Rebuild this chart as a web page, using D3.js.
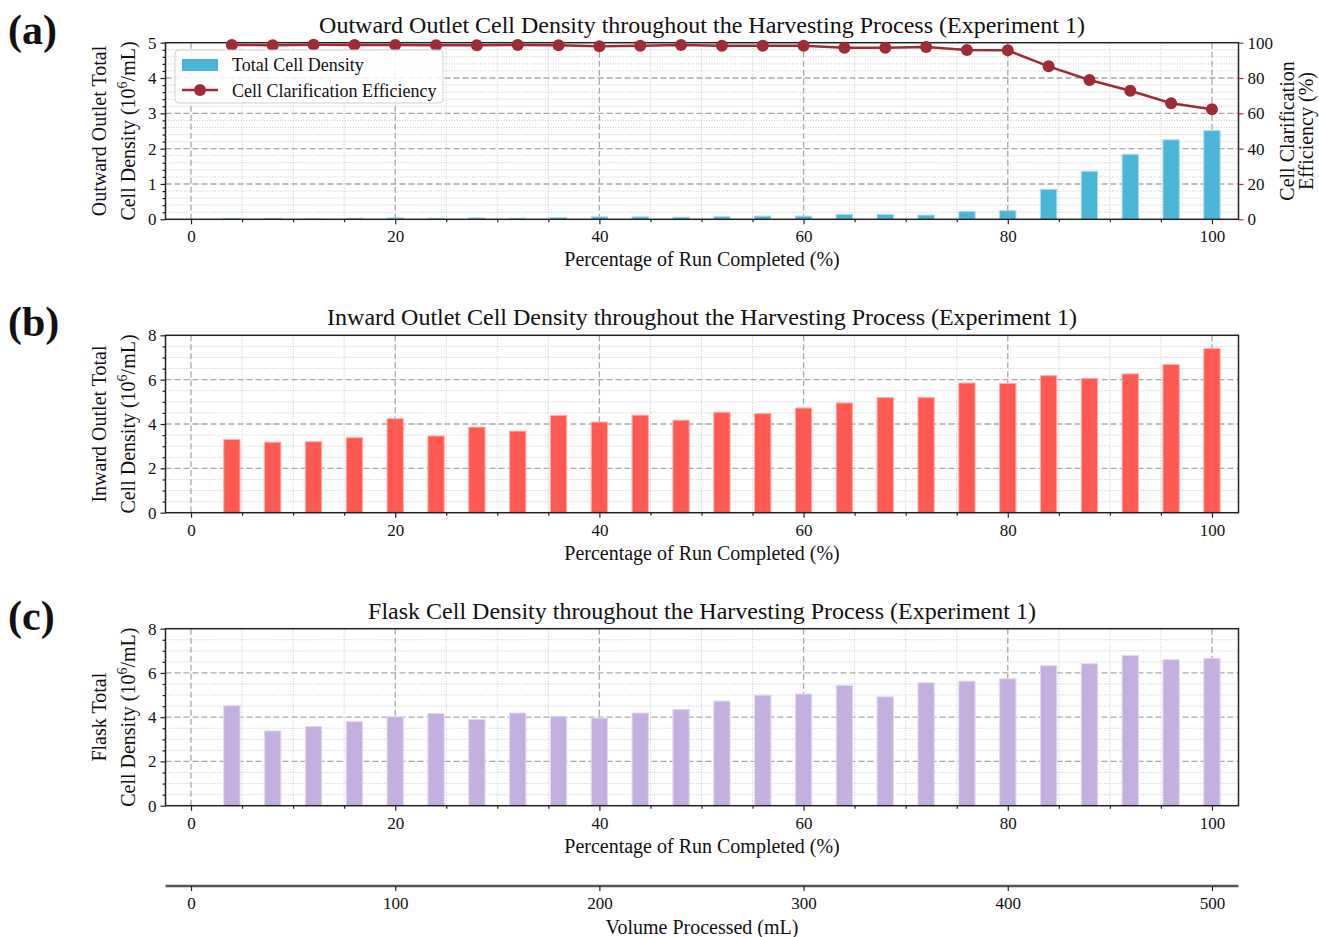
<!DOCTYPE html>
<html><head><meta charset="utf-8">
<script src="https://cdn.jsdelivr.net/npm/d3@7/dist/d3.min.js"></script>
<style>body{margin:0;background:#fff}svg{display:block}text{font-family:"Liberation Serif","Times New Roman",serif;fill:#111}</style>
</head><body><svg id="c" width="1319" height="937"></svg>
<script>
const pct = [4,8,12,16,20,24,28,32,36,40,44,48,52,56,60,64,68,72,76,80,84,88,92,96,100];
const outward = [0.03,0.03,0.01,0.03,0.04,0.03,0.04,0.03,0.05,0.07,0.07,0.06,0.075,0.09,0.09,0.14,0.14,0.12,0.22,0.245,0.85,1.36,1.84,2.25,2.51];
const efficiency = [98.7,98.6,98.8,98.7,98.7,98.6,98.5,98.7,98.5,98.0,98.3,98.7,98.3,98.3,98.3,97.2,97.2,97.5,95.8,95.7,86.6,78.9,72.8,65.7,62.3];
const inward = [3.3,3.18,3.2,3.38,4.24,3.46,3.86,3.68,4.39,4.09,4.4,4.17,4.53,4.47,4.72,4.95,5.19,5.19,5.85,5.83,6.18,6.06,6.26,6.68,7.40];
const flask = [4.52,3.38,3.58,3.8,4.02,4.17,3.9,4.19,4.04,3.96,4.19,4.35,4.73,5.0,5.05,5.44,4.92,5.56,5.63,5.74,6.33,6.42,6.79,6.6,6.66];
const xTicks = [0,20,40,60,80,100];
const volTicks = [0,100,200,300,400,500];
const titles = ["Outward Outlet Cell Density throughout the Harvesting Process (Experiment 1)",
  "Inward Outlet Cell Density throughout the Harvesting Process (Experiment 1)",
  "Flask Cell Density throughout the Harvesting Process (Experiment 1)"];
const panelLabels = ["(a)","(b)","(c)"];
const yLabel1 = ["Outward Outlet Total","Inward Outlet Total","Flask Total"];
const xLabel = "Percentage of Run Completed (%)";

const svg = d3.select("#c");
const L = 165.5, R = 1238.5;
const x = d3.scaleLinear().domain([-2.5,102.6]).range([L,R]);
const barW = x(1.6) - x(0);
const colors = ["#4bb5d7","#ff5a52","#c3b0e0"];
const edge = ["#a8dcec","#ffb0ab","#e3d9f2"];
const lineColor = "#9e2b36";
const redText = "#a8323f";
const TF = 17;

const panels = [
  {top:42.7,bot:219.3,ymax:5,major:1,minor:0.2,data:outward},
  {top:335.3,bot:512.7,ymax:8,major:2,minor:0.5,data:inward},
  {top:628.7,bot:805.7,ymax:8,major:2,minor:0.5,data:flask}
];

panels.forEach((p,i)=>{
  const g = svg.append("g");
  const y = d3.scaleLinear().domain([0,p.ymax]).range([p.bot,p.top]);
  const minorY = d3.range(0,p.ymax+1e-9,p.minor).filter(v=>Math.abs(v/p.major-Math.round(v/p.major))>1e-6);
  const majorY = d3.range(0,p.ymax+1e-9,p.major);
  const minorX = d3.range(5,101,5).filter(v=>v%20!==0);
  g.selectAll(".mgy").data(minorY).join("line").attr("x1",L).attr("x2",R).attr("y1",d=>y(d)).attr("y2",d=>y(d))
    .attr("stroke","#bdbdbd").attr("stroke-width",0.8).attr("stroke-dasharray","1,1.6");
  g.selectAll(".mgx").data(minorX).join("line").attr("x1",d=>x(d)).attr("x2",d=>x(d)).attr("y1",p.top).attr("y2",p.bot)
    .attr("stroke","#bdbdbd").attr("stroke-width",0.8).attr("stroke-dasharray","1,1.6");
  g.selectAll(".Mgy").data(majorY.slice(1,-1)).join("line").attr("x1",L).attr("x2",R).attr("y1",d=>y(d)).attr("y2",d=>y(d))
    .attr("stroke","#a9a9a9").attr("stroke-width",1.3).attr("stroke-dasharray","6,3");
  g.selectAll(".Mgx").data(xTicks).join("line").attr("x1",d=>x(d)).attr("x2",d=>x(d)).attr("y1",p.top).attr("y2",p.bot)
    .attr("stroke","#a9a9a9").attr("stroke-width",1.3).attr("stroke-dasharray","6,3");
  g.selectAll("rect.bar").data(p.data).join("rect").attr("class","bar")
    .attr("x",(d,j)=>x(pct[j])-barW/2).attr("width",barW)
    .attr("y",d=>y(d)).attr("height",d=>p.bot-y(d))
    .attr("fill",colors[i]).attr("stroke",edge[i]).attr("stroke-width",1);
  const ax = d3.axisBottom(x).tickValues(xTicks).tickSize(5).tickPadding(6).tickFormat(d3.format("d"));
  const axg = g.append("g").attr("transform",`translate(0,${p.bot})`).call(ax);
  const axm = g.append("g").attr("transform",`translate(0,${p.bot})`).call(d3.axisBottom(x).tickValues(minorX).tickSize(3).tickFormat(""));
  const ay = d3.axisLeft(y).tickValues(majorY).tickSize(5).tickPadding(4).tickFormat(d3.format("d"));
  const ayg = g.append("g").attr("transform",`translate(${L},0)`).call(ay);
  const aym = g.append("g").attr("transform",`translate(${L},0)`).call(d3.axisLeft(y).tickValues(minorY).tickSize(3).tickFormat(""));
  [axg,axm,ayg,aym].forEach(a=>{a.select(".domain").remove();a.selectAll("line").attr("stroke","#222").attr("stroke-width",1.2);
    a.selectAll("text").attr("font-size",TF).attr("fill","#111").attr("font-family","Liberation Serif");});
  g.append("rect").attr("x",L).attr("y",p.top).attr("width",R-L).attr("height",p.bot-p.top)
    .attr("fill","none").attr("stroke","#222").attr("stroke-width",1.5);
  g.append("text").attr("x",(L+R)/2).attr("y",p.top-10).attr("text-anchor","middle").attr("font-size",24).text(titles[i]);
  g.append("text").attr("x",8).attr("y",p.top+1).attr("font-size",42).attr("font-weight","bold").text(panelLabels[i]);
  g.append("text").attr("x",(L+R)/2).attr("y",p.bot+47).attr("text-anchor","middle").attr("font-size",20).text(xLabel);
  const cy = (p.top+p.bot)/2;
  g.append("text").attr("transform",`translate(106,${cy}) rotate(-90)`).attr("text-anchor","middle").attr("font-size",20).text(yLabel1[i]);
  const t2 = g.append("text").attr("transform",`translate(135,${cy}) rotate(-90)`).attr("text-anchor","middle").attr("font-size",20);
  t2.append("tspan").text("Cell Density (10");
  t2.append("tspan").attr("font-size",14).attr("dy",-8).text("6");
  t2.append("tspan").attr("dy",8).text("/mL)");

  if(i===0){
    const y2 = d3.scaleLinear().domain([0,100]).range([p.bot,p.top]);
    const ar = g.append("g").attr("transform",`translate(${R},0)`).call(d3.axisRight(y2).tickValues([0,20,40,60,80,100]).tickSize(5).tickPadding(4));
    ar.select(".domain").remove();
    ar.selectAll("line").attr("stroke",redText).attr("stroke-width",1.2);
    ar.selectAll("text").attr("font-size",TF).attr("fill",redText).attr("font-family","Liberation Serif");
    const line = d3.line().x((d,j)=>x(pct[j])).y(d=>y2(d));
    g.append("path").datum(efficiency).attr("d",line).attr("fill","none").attr("stroke",lineColor).attr("stroke-width",2.5);
    g.selectAll("circle.m").data(efficiency).join("circle").attr("class","m").attr("cx",(d,j)=>x(pct[j])).attr("cy",d=>y2(d)).attr("r",6).attr("fill",lineColor);
    g.append("text").attr("transform",`translate(1294,${cy}) rotate(-90)`).attr("text-anchor","middle").attr("font-size",20).attr("fill",redText).text("Cell Clarification");
    g.append("text").attr("transform",`translate(1313,${cy}) rotate(-90)`).attr("text-anchor","middle").attr("font-size",20).attr("fill",redText).text("Efficiency (%)");
    const lg = g.append("g");
    lg.append("rect").attr("x",175).attr("y",50).attr("width",268).attr("height",53).attr("rx",4)
      .attr("fill","#fff").attr("fill-opacity",0.85).attr("stroke","#d0d0d0");
    lg.append("rect").attr("x",182).attr("y",59).attr("width",36).attr("height",12).attr("fill",colors[0]);
    lg.append("text").attr("x",232).attr("y",71).attr("font-size",18).text("Total Cell Density");
    lg.append("line").attr("x1",182).attr("x2",218).attr("y1",90).attr("y2",90).attr("stroke",lineColor).attr("stroke-width",2.5);
    lg.append("circle").attr("cx",200).attr("cy",90).attr("r",6).attr("fill",lineColor);
    lg.append("text").attr("x",232).attr("y",97).attr("font-size",18).text("Cell Clarification Efficiency");
  }
});

const xv = d3.scaleLinear().domain([0,500]).range([x(0),x(100)]);
const vy = 886;
svg.append("line").attr("x1",L).attr("x2",R).attr("y1",vy).attr("y2",vy).attr("stroke","#555").attr("stroke-width",2.5);
const av = svg.append("g").attr("transform",`translate(0,${vy})`).call(d3.axisBottom(xv).tickValues(volTicks).tickSize(5).tickPadding(6));
av.select(".domain").remove();
av.selectAll("line").attr("stroke","#222").attr("stroke-width",1.2);
av.selectAll("text").attr("font-size",TF).attr("fill","#111").attr("font-family","Liberation Serif");
svg.append("text").attr("x",(L+R)/2).attr("y",934).attr("text-anchor","middle").attr("font-size",20).text("Volume Processed (mL)");
</script></body></html>
